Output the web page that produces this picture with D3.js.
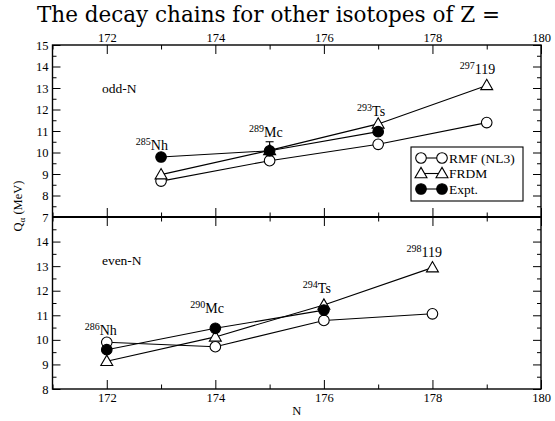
<!DOCTYPE html>
<html>
<head>
<meta charset="utf-8">
<title>Q-alpha decay chains</title>
<script src="https://d3js.org/d3.v7.min.js"></script>
<style>
  body { margin: 0; background: #fff; }
  .axis line { stroke: #000; }
</style>
</head>
<body>
<div id="chart"></div>
<script>
// odd-N panel (top)
var oddN      = [173, 175, 177, 179];
var oddRMF    = [8.67, 9.62, 10.38, 11.39];
var oddFRDM   = [8.97, 10.1, 11.33, 13.12];
var oddExptN  = [173, 175, 177];
var oddExpt   = [9.79, 10.08, 10.97];
var oddExptErr = [0, 0.42, 0];
var oddLabels = [
  {n: 172.83, q: 10.12, mass: "285", sym: "Nh"},
  {n: 174.93, q: 10.72, mass: "289", sym: "Mc"},
  {n: 176.87, q: 11.70, mass: "293", sym: "Ts"},
  {n: 178.83, q: 13.65, mass: "297", sym: "119"}
];

// even-N panel (bottom)
var evenN     = [172, 174, 176, 178];
var evenRMF   = [9.9, 9.72, 10.79, 11.06];
var evenFRDM  = [9.13, 10.12, 11.42, 12.94];
var evenExptN = [172, 174, 176];
var evenExpt  = [9.6, 10.47, 11.21];
var evenLabels = [
  {n: 171.89, q: 10.19, mass: "286", sym: "Nh"},
  {n: 173.85, q: 11.09, mass: "290", sym: "Mc"},
  {n: 175.87, q: 11.90, mass: "294", sym: "Ts"},
  {n: 177.85, q: 13.37, mass: "298", sym: "119"}
];

var xMajor = [172, 174, 176, 178, 180];
var xMinor = [171, 173, 175, 177, 179];
var legendNames = ["RMF (NL3)", "FRDM", "Expt."];

(function() {
var W = 555, H = 421;
var pLeft = 52.5, pRight = 541, pTop = 45, pMid = 217, pBottom = 389;

var svg = d3.select("#chart").append("svg")
    .attr("width", W).attr("height", H)
    .attr("font-family", "Liberation Serif");

var x = d3.scaleLinear().domain([171, 180]).range([pLeft, pRight]);
var yTop = d3.scaleLinear().domain([7, 15]).range([pMid, pTop]);
var yBot = d3.scaleLinear().domain([8, 15]).range([pBottom, pMid]);

var halfSteps = function(a, b) {
  var out = [];
  for (var v = a + 0.5; v < b; v += 1) out.push(v);
  return out;
};

var drawAxis = function(axis, tx, ty) {
  var g = svg.append("g").attr("class", "axis")
      .attr("transform", "translate(" + tx + "," + ty + ")")
      .call(axis);
  g.selectAll("path").remove();
  g.attr("font-family", "Liberation Serif").attr("font-size", 12.5);
  g.selectAll("line").attr("stroke-width", 1);
  return g;
};

var panel = function(y, labelTicks) {
  var d = y.domain();
  var yMajor = d3.range(d[0], d[1] + 0.1, 1);
  drawAxis(d3.axisLeft(y).tickValues(yMajor).tickSize(-8).tickPadding(4)
      .tickFormat(function(v) { return labelTicks.indexOf(v) >= 0 ? v : ""; }), pLeft, 0);
  drawAxis(d3.axisLeft(y).tickValues(halfSteps(d[0], d[1])).tickSize(-4).tickFormat(""), pLeft, 0);
  drawAxis(d3.axisRight(y).tickValues(yMajor).tickSize(-8).tickFormat(""), pRight, 0);
  drawAxis(d3.axisRight(y).tickValues(halfSteps(d[0], d[1])).tickSize(-4).tickFormat(""), pRight, 0);
};

panel(yTop, [7, 8, 9, 10, 11, 12, 13, 14, 15]);
panel(yBot, [8, 9, 10, 11, 12, 13, 14]);

// x ticks: top of top panel, middle line both ways, bottom of bottom panel
drawAxis(d3.axisTop(x).tickValues(xMajor).tickSize(-9).tickPadding(3).tickFormat(d3.format("d")), 0, pTop);
drawAxis(d3.axisTop(x).tickValues(xMinor).tickSize(-4.5).tickFormat(""), 0, pTop);
drawAxis(d3.axisBottom(x).tickValues(xMajor).tickSize(-9).tickFormat(""), 0, pMid);
drawAxis(d3.axisBottom(x).tickValues(xMinor).tickSize(-4.5).tickFormat(""), 0, pMid);
drawAxis(d3.axisTop(x).tickValues(xMajor).tickSize(-9).tickFormat(""), 0, pMid);
drawAxis(d3.axisTop(x).tickValues(xMinor).tickSize(-4.5).tickFormat(""), 0, pMid);
drawAxis(d3.axisBottom(x).tickValues(xMajor).tickSize(-9).tickPadding(4).tickFormat(d3.format("d")), 0, pBottom);
drawAxis(d3.axisBottom(x).tickValues(xMinor).tickSize(-4.5).tickFormat(""), 0, pBottom);

// frames
svg.append("rect").attr("x", pLeft).attr("y", pTop)
    .attr("width", pRight - pLeft).attr("height", pBottom - pTop)
    .attr("fill", "none").attr("stroke", "#000").attr("stroke-width", 1.4);
svg.append("line").attr("x1", pLeft).attr("x2", pRight)
    .attr("y1", pMid).attr("y2", pMid)
    .attr("stroke", "#000").attr("stroke-width", 2.2);

var line = function(y) {
  return d3.line().x(function(d) { return x(d[0]); }).y(function(d) { return y(d[1]); });
};

var circle = function(g, cx, cy, filled) {
  g.append("circle").attr("cx", cx).attr("cy", cy).attr("r", 5.3)
      .attr("fill", filled ? "#000" : "#fff").attr("stroke", "#000").attr("stroke-width", 1.1);
};
var triangle = function(g, cx, cy) {
  g.append("path").attr("d", d3.symbol().type(d3.symbolTriangle).size(62)())
      .attr("transform", "translate(" + cx + "," + (cy + 0.8) + ")")
      .attr("fill", "#fff").attr("stroke", "#000").attr("stroke-width", 1.1);
};

var series = function(y, ns, vals, kind) {
  var pts = ns.map(function(n, i) { return [n, vals[i]]; });
  var g = svg.append("g");
  g.append("path").datum(pts).attr("d", line(y))
      .attr("fill", "none").attr("stroke", "#000").attr("stroke-width", 1.1);
  pts.forEach(function(p) {
    if (kind === "tri") triangle(g, x(p[0]), y(p[1]));
    else circle(g, x(p[0]), y(p[1]), kind === "fill");
  });
  return g;
};

var errBars = function(y, ns, vals, errs) {
  ns.forEach(function(n, i) {
    if (!errs[i]) return;
    var cx = x(n), y0 = y(vals[i] - errs[i]), y1 = y(vals[i] + errs[i]);
    svg.append("line").attr("x1", cx).attr("x2", cx).attr("y1", y0).attr("y2", y1)
        .attr("stroke", "#000").attr("stroke-width", 1.1);
    [y0, y1].forEach(function(yy) {
      svg.append("line").attr("x1", cx - 4).attr("x2", cx + 4).attr("y1", yy).attr("y2", yy)
          .attr("stroke", "#000").attr("stroke-width", 1.1);
    });
  });
};

errBars(yTop, oddExptN, oddExpt, oddExptErr);
series(yTop, oddN, oddRMF, "open");
series(yTop, oddN, oddFRDM, "tri");
series(yTop, oddExptN, oddExpt, "fill");

series(yBot, evenN, evenRMF, "open");
series(yBot, evenN, evenFRDM, "tri");
series(yBot, evenExptN, evenExpt, "fill");

// nucleus labels
var nucLabel = function(y, d) {
  var t = svg.append("text").attr("x", x(d.n)).attr("y", y(d.q))
      .attr("text-anchor", "middle").attr("font-size", 14);
  t.append("tspan").attr("dy", -5).attr("font-size", 10).text(d.mass);
  t.append("tspan").attr("dy", 5).text(d.sym);
};
oddLabels.forEach(function(d) { nucLabel(yTop, d); });
evenLabels.forEach(function(d) { nucLabel(yBot, d); });

svg.append("text").attr("x", x(171.91)).attr("y", yTop(12.77))
    .attr("font-size", 13.5).text("odd-N");
svg.append("text").attr("x", x(171.91)).attr("y", yBot(13.04))
    .attr("font-size", 13.5).text("even-N");

// axis titles
svg.append("text").attr("x", (pLeft + pRight) / 2).attr("y", 415)
    .attr("text-anchor", "middle").attr("font-size", 12.5).text("N");
var yl = svg.append("text")
    .attr("transform", "translate(22,206) rotate(-90)")
    .attr("text-anchor", "middle").attr("font-size", 12.5);
yl.append("tspan").text("Q");
yl.append("tspan").attr("dy", 3).attr("font-size", 9).text("\u03b1");
yl.append("tspan").attr("dy", -3).text(" (MeV)");

// legend
var lg = svg.append("g").attr("transform", "translate(411,147)");
lg.append("rect").attr("width", 112).attr("height", 54)
    .attr("fill", "#fff").attr("stroke", "#000").attr("stroke-width", 1.1);
legendNames.forEach(function(name, i) {
  var cy = 11 + i * 15.5;
  lg.append("line").attr("x1", 10).attr("x2", 31).attr("y1", cy).attr("y2", cy)
      .attr("stroke", "#000").attr("stroke-width", 1.1);
  [10, 31].forEach(function(cx) {
    if (i === 1) triangle(lg, cx, cy);
    else circle(lg, cx, cy, i === 2);
  });
  lg.append("text").attr("x", 38).attr("y", cy + 4.5)
      .attr("font-size", 13.5).text(name);
});

svg.selectAll("text").attr("font-family", "Liberation Serif").attr("fill", "#000");

// title (cut off like the source page), wider serif face like the original
svg.append("text")
    .attr("x", 37).attr("y", 22)
    .style("font-family", "'DejaVu Serif'")
    .style("font-size", "21.5px")
    .attr("fill", "#000")
    .text("The decay chains for other isotopes of Z =");
})();
</script>
</body>
</html>
